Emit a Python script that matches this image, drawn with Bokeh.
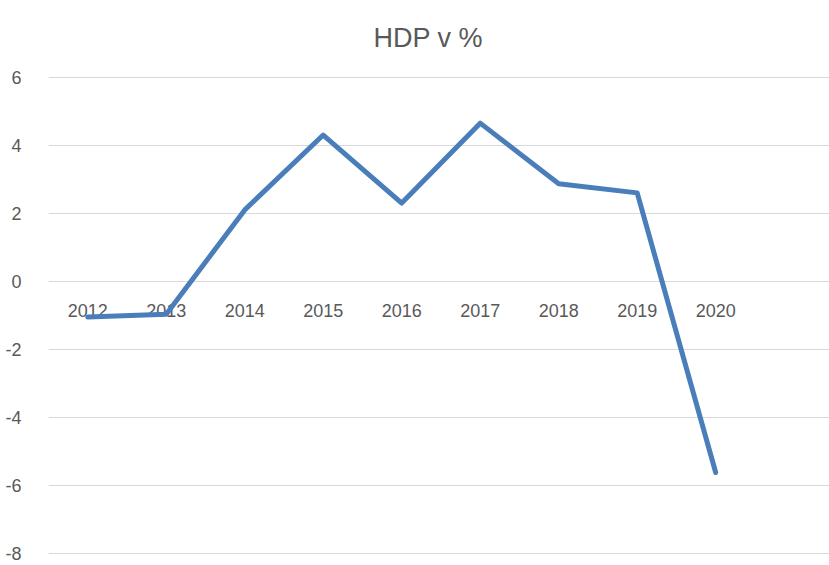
from bokeh.plotting import figure
from bokeh.models import Range1d, FixedTicker, ColumnDataSource, PrintfTickFormatter
from bokeh.core.properties import value
from bokeh.embed import file_html
from bokeh.resources import INLINE

years = ["2012", "2013", "2014", "2015", "2016", "2017", "2018", "2019", "2020"]
hdp = [-1.05, -0.97, 2.1, 4.3, 2.3, 4.65, 2.87, 2.6, -5.62]
y_ticks = [-8, -6, -4, -2, 0, 2, 4, 6]
n_slots = 10  # category slots on the axis (last one empty)

idx = list(range(len(years)))
src = ColumnDataSource(dict(x=idx, y=hdp, label=years, zero=[0] * len(years)))

FONT = "Liberation Sans"
GREY = "#595959"

p = figure(width=829, height=565, output_backend="svg", toolbar_location=None,
           x_range=Range1d(-0.5, n_slots - 0.55), y_range=Range1d(-8.059, 6.05),
           min_border_left=48, min_border_right=0, min_border_top=75, min_border_bottom=10,
           title="HDP v %")
p.title.align = "left"
p.title.offset = 325
p.title.standoff = 41
p.title.vertical_align = "top"
p.title.text_font = FONT
p.title.text_font_size = "27px"
p.title.text_font_style = "normal"
p.title.text_color = GREY
p.outline_line_color = None
p.background_fill_color = "white"
p.border_fill_color = "white"

p.xaxis.visible = False
p.xgrid.visible = False
p.ygrid.grid_line_color = "#d9d9d9"
p.ygrid.grid_line_width = 1.2
p.yaxis.ticker = FixedTicker(ticks=y_ticks)
p.yaxis.formatter = PrintfTickFormatter(format="%d")
p.yaxis.axis_line_color = None
p.yaxis.major_tick_line_color = None
p.yaxis.minor_tick_line_color = None
p.yaxis.major_label_standoff = 21
p.yaxis.major_label_text_font = FONT
p.yaxis.major_label_text_font_size = "18px"
p.yaxis.major_label_text_color = GREY

p.text(x="x", y="zero", text="label", source=src, y_offset=29,
       text_align="center", text_baseline="middle",
       text_font=value(FONT), text_font_size="18px", text_color=GREY)

p.line(x="x", y="y", source=src, line_color="#4a7ebb", line_width=5,
       line_join="round", line_cap="round")

open("out.html", "w").write(file_html(p, INLINE))
